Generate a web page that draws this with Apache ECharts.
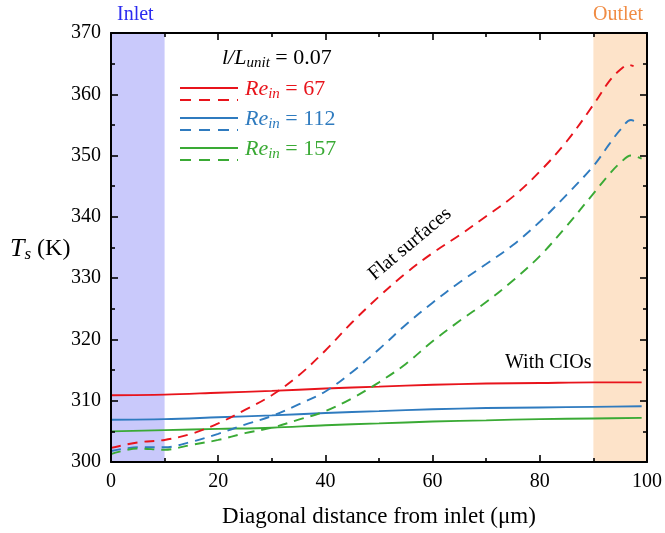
<!DOCTYPE html>
<html>
<head>
<meta charset="utf-8">
<script src="https://cdn.jsdelivr.net/npm/echarts@6/dist/echarts.min.js"></script>
<style>
  html, body { margin: 0; padding: 0; background: #fff; }
  #chart { width: 665px; height: 533px; }
</style>
</head>
<body>
<div id="chart"></div>
<script>
// Surface temperature along the diagonal, l/L_unit = 0.07
const reLabels = ['67', '112', '157'];
const colors = ['#e8141c', '#2f7bbf', '#3aaa35'];

// With CIOs (solid)
const xSolid = [0, 10, 20, 30, 40, 50, 60, 70, 80, 90, 99];
const cioRe67  = [310.9, 311.0, 311.3, 311.6, 312.0, 312.3, 312.6, 312.8, 312.9, 313.0, 313.0];
const cioRe112 = [306.9, 307.0, 307.3, 307.6, 308.0, 308.3, 308.6, 308.8, 308.9, 309.0, 309.1];
const cioRe157 = [305.0, 305.2, 305.4, 305.6, 306.0, 306.3, 306.6, 306.8, 307.0, 307.1, 307.2];

// Flat surfaces (dashed)
const xFlat67  = [0, 5, 10, 15, 20, 25, 30, 35, 40, 45, 50, 55, 60, 65, 70, 75, 80, 85, 90, 93, 95, 96.5, 97.5];
const flatRe67 = [302.3, 303.2, 303.6, 304.6, 306.3, 308.5, 310.9, 314.1, 318.2, 322.8, 327.0, 330.8, 334.1, 337.0, 340.1, 343.3, 347.4, 352.3, 358.3, 362.2, 364.0, 364.8, 364.6];
const xFlat112  = [0, 5, 10, 15, 20, 25, 30, 35, 40, 45, 50, 55, 60, 65, 70, 75, 80, 85, 90, 93, 95, 97, 98.5];
const flatRe112 = [301.8, 302.4, 302.4, 303.3, 304.6, 306.1, 307.5, 309.4, 311.5, 314.7, 318.4, 322.4, 326.0, 329.3, 332.3, 335.4, 339.2, 343.6, 348.3, 351.9, 354.2, 355.8, 355.3];
const xFlat157  = [0, 5, 10, 15, 20, 25, 30, 35, 40, 45, 50, 55, 60, 65, 70, 75, 80, 85, 90, 93, 95, 97, 99];
const flatRe157 = [301.3, 302.2, 302.0, 302.8, 303.6, 304.7, 305.6, 306.9, 308.3, 310.4, 313.0, 316.0, 319.7, 323.0, 326.1, 329.6, 333.6, 338.5, 343.8, 347.0, 348.8, 350.0, 349.5];

const inletRange = [0, 10];
const outletRange = [90, 100];

const pair = (xs, ys) => xs.map((x, i) => [x, ys[i]]);
const SERIF = '"Liberation Serif", "DejaVu Serif", serif';

const chart = echarts.init(document.getElementById('chart'));

function solid(name, xs, ys, c) {
  return { name, type: 'line', data: pair(xs, ys), showSymbol: false, smooth: 0.35,
    lineStyle: { color: c, width: 1.9 }, z: 3 };
}
function dashed(name, xs, ys, c) {
  return { name, type: 'line', data: pair(xs, ys), showSymbol: false, smooth: 0.35,
    lineStyle: { color: c, width: 1.9, type: [10, 7] }, z: 3 };
}

// Frame axes: every side carries inward ticks, only bottom/left carry labels
function frameAxis(extra) {
  return Object.assign({
    type: 'value',
    axisLine: { show: true, onZero: false, lineStyle: { color: '#000', width: 2 } },
    axisTick: { show: true, inside: true, length: 7, lineStyle: { color: '#000', width: 1.6 } },
    minorTick: { show: true, splitNumber: 2, length: 4, lineStyle: { color: '#000', width: 1.6 } },
    splitLine: { show: false },
    minorSplitLine: { show: false },
    z: 10
  }, extra);
}

const option = {
  animation: false,
  backgroundColor: '#fff',
  grid: { left: 111, right: 17, top: 33, bottom: 68 },
  xAxis: [
    frameAxis({ min: 0, max: 100, interval: 20, position: 'bottom',
      axisLabel: { color: '#000', fontFamily: SERIF, fontSize: 20, margin: 10 },
      name: 'Diagonal distance from inlet (\u03bcm)', nameLocation: 'middle', nameGap: 43,
      nameTextStyle: { color: '#000', fontFamily: SERIF, fontSize: 23 } }),
    frameAxis({ min: 0, max: 100, interval: 20, position: 'top', axisLabel: { show: false } })
  ],
  yAxis: [
    frameAxis({ min: 300, max: 370, interval: 10, position: 'left',
      axisLabel: { color: '#000', fontFamily: SERIF, fontSize: 20, margin: 10 } }),
    frameAxis({ min: 300, max: 370, interval: 10, position: 'right', axisLabel: { show: false } })
  ],
  series: [
    { type: 'line', data: [], silent: true,
      markArea: { silent: true, data: [
        [{ xAxis: inletRange[0], itemStyle: { color: '#c9c9fb' } }, { xAxis: inletRange[1] }],
        [{ xAxis: outletRange[0], itemStyle: { color: '#fde3c9' } }, { xAxis: outletRange[1] }]
      ] }, z: 1 },
    solid('CIO Re67', xSolid, cioRe67, colors[0]),
    solid('CIO Re112', xSolid, cioRe112, colors[1]),
    solid('CIO Re157', xSolid, cioRe157, colors[2]),
    dashed('Flat Re67', xFlat67, flatRe67, colors[0]),
    dashed('Flat Re112', xFlat112, flatRe112, colors[1]),
    dashed('Flat Re157', xFlat157, flatRe157, colors[2])
  ]
};
chart.setOption(option);

// Annotations and the custom two-line legend
const graphics = [];
graphics.push({ type: 'text', left: 117, top: 5, style: { text: 'Inlet', fill: '#2b2bf0', font: '20px ' + SERIF } });
graphics.push({ type: 'text', left: 593, top: 5, style: { text: 'Outlet', fill: '#f08c44', font: '20px ' + SERIF } });

graphics.push({ type: 'text', left: 10, top: 236, style: {
  text: '{i|T}{s|s}{n| (K)}',
  rich: {
    i: { fontFamily: SERIF, fontSize: 26, fontStyle: 'italic', fill: '#000' },
    s: { fontFamily: SERIF, fontSize: 17, fontStyle: 'italic', fill: '#000', padding: [12, 0, 0, 0] },
    n: { fontFamily: SERIF, fontSize: 24, fill: '#000' }
  } } });

graphics.push({ type: 'text', left: 222, top: 47, style: {
  text: '{i|l/L}{s|unit}{n| = 0.07}',
  rich: {
    i: { fontFamily: SERIF, fontSize: 22, fontStyle: 'italic', fill: '#000' },
    s: { fontFamily: SERIF, fontSize: 15, fontStyle: 'italic', fill: '#000', padding: [10, 0, 0, 0] },
    n: { fontFamily: SERIF, fontSize: 22, fill: '#000' }
  } } });

const legendY = [88, 118, 148];
reLabels.forEach((re, k) => {
  const y = legendY[k];
  const c = colors[k];
  graphics.push({ type: 'line', shape: { x1: 180, y1: y, x2: 238, y2: y }, style: { stroke: c, lineWidth: 2 } });
  graphics.push({ type: 'line', shape: { x1: 180, y1: y + 12, x2: 238, y2: y + 12 }, style: { stroke: c, lineWidth: 2, lineDash: [11, 8] } });
  graphics.push({ type: 'text', left: 245, top: y - 10, style: {
    text: '{i|Re}{s|in}{n| = ' + re + '}',
    rich: {
      i: { fontFamily: SERIF, fontSize: 22, fontStyle: 'italic', fill: c },
      s: { fontFamily: SERIF, fontSize: 15, fontStyle: 'italic', fill: c, padding: [10, 0, 0, 0] },
      n: { fontFamily: SERIF, fontSize: 22, fill: c }
    } } });
});

graphics.push({ type: 'text', x: 410, y: 244, rotation: Math.PI * 40 / 180,
  style: { text: 'Flat surfaces', fill: '#000', font: '20px ' + SERIF, align: 'center', verticalAlign: 'middle' } });
graphics.push({ type: 'text', left: 505, top: 353, style: { text: 'With CIOs', fill: '#000', font: '20px ' + SERIF } });

chart.setOption({ graphic: graphics });
</script>
</body>
</html>
